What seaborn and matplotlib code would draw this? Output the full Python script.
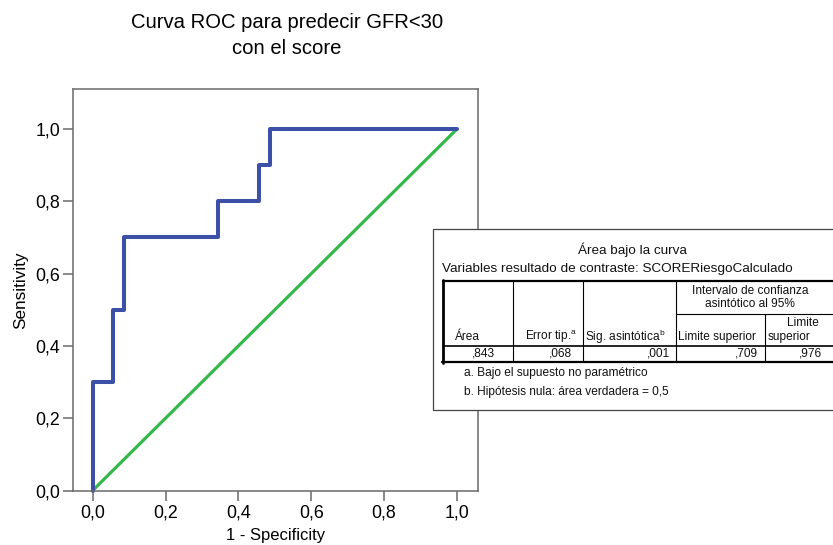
"""ROC curve for predicting GFR<30 from the risk score, with the SPSS-style AUC table."""
import matplotlib
matplotlib.use("Agg")
import matplotlib.pyplot as plt
from matplotlib.lines import Line2D
from matplotlib.patches import Rectangle
import pandas as pd
import seaborn as sns

# ROC step points (1 - specificity, sensitivity)
fpr = [0.0, 0.0, 0.057, 0.086, 0.343, 0.457, 0.486, 1.0]
tpr = [0.0, 0.3, 0.5, 0.7, 0.8, 0.9, 1.0, 1.0]
ref_x = [0.0, 1.0]
ref_y = [0.0, 1.0]

ticks = [0.0, 0.2, 0.4, 0.6, 0.8, 1.0]
tick_labels = ["0,0", "0,2", "0,4", "0,6", "0,8", "1,0"]

# AUC table
table_title = "Área bajo la curva"
table_subtitle = "Variables resultado de contraste: SCORERiesgoCalculado"
auc_values = [",843", ",068", ",001", ",709", ",976"]
footnotes = ["a. Bajo el supuesto no paramétrico",
             "b. Hipótesis nula: área verdadera = 0,5"]

BLUE = "#3B50A6"
GREEN = "#35B84A"
FRAME = "#6a6a6a"
W, H = 833, 545

sns.set_theme(style="white")
plt.rcParams["font.family"] = ["Liberation Sans", "DejaVu Sans"]
plt.rcParams["mathtext.fontset"] = "custom"
plt.rcParams["mathtext.rm"] = "Liberation Sans"
plt.rcParams["text.color"] = "black"

fig = plt.figure(figsize=(W / 100, H / 100), dpi=100)
ax = fig.add_axes([72.7 / W, 1 - 490.5 / H, (478 - 72.7) / W, (490.5 - 89) / H])

roc = pd.DataFrame({"fpr": fpr, "tpr": tpr})
ref = pd.DataFrame({"x": ref_x, "y": ref_y})
sns.lineplot(data=ref, x="x", y="y", ax=ax, color=GREEN, lw=2.3,
             sort=False, estimator=None, clip_on=False)
sns.lineplot(data=roc, x="fpr", y="tpr", ax=ax, color=BLUE, lw=2.9,
             sort=False, estimator=None, drawstyle="steps-post", clip_on=False)

ax.set_xlim(-0.0549, 1.0577)
ax.set_ylim(0, 1.1107)
ax.set_xticks(ticks, tick_labels)
ax.set_yticks(ticks, tick_labels)
ax.tick_params(axis="both", direction="out", length=7, width=1.1, color=FRAME,
               labelsize=12.8, labelcolor="black", bottom=True, left=True)
ax.tick_params(axis="x", pad=3)
ax.tick_params(axis="y", pad=2)
for s in ax.spines.values():
    s.set_color(FRAME)
    s.set_linewidth(1.1)
ax.set_xlabel("1 - Specificity", fontsize=12, labelpad=5, color="black")
ax.set_ylabel("Sensitivity", fontsize=12.3, labelpad=5, color="black")


def px(x, y):
    return x / W, 1 - y / H


def txt(x, y, s, ha="left", size=8.6):
    fig.text(*px(x, y), s, ha=ha, va="center", fontsize=size, color="#111111")


def hline(x0, x1, y, lw=0.8):
    fig.add_artist(Line2D([x0 / W, x1 / W], [1 - y / H, 1 - y / H],
                          color="black", lw=lw, transform=fig.transFigure))


def vline(x, y0, y1, lw=0.8):
    fig.add_artist(Line2D([x / W, x / W], [1 - y0 / H, 1 - y1 / H],
                          color="black", lw=lw, transform=fig.transFigure))


# title
fig.text(*px(287, 23), "Curva ROC para predecir GFR<30", ha="center", va="center", fontsize=14.6)
fig.text(*px(287, 48), "con el score", ha="center", va="center", fontsize=14.6)

# outer box of the table (runs off the right edge like the original)
fig.add_artist(Rectangle(px(433, 410), (W + 10 - 433) / W, (410 - 229) / H,
                         transform=fig.transFigure, facecolor="white",
                         edgecolor="#444444", lw=0.9, clip_on=False))

txt(632, 250, table_title, ha="center", size=9.7)
txt(442, 269, table_subtitle, size=9.7)

# grid
hline(443, W, 281, lw=1.6)
vline(443, 280, 362.5, lw=2.0)
for x in [513, 583, 676]:
    vline(x, 281, 362)
vline(765, 313.5, 362)  # the CI header spans both limit columns
hline(676, W, 313.5)
hline(443, W, 345.5, lw=1.2)
hline(442, W, 362, lw=1.6)

txt(750, 291.5, "Intervalo de confianza", ha="center")
txt(750, 304, "asintótico al 95%", ha="center")
txt(803, 323, "Limite", ha="center")
txt(768, 337, "superior")
txt(455, 337, "Área")
txt(577, 337, "Error tip.$^{\\mathrm{a}}$", ha="right")
txt(585, 337, "Sig. asintótica$^{\\mathrm{b}}$")
txt(678, 337, "Limite superior")

for xr, v in zip([495, 572, 670, 758, 822], auc_values):
    txt(xr, 354, v, ha="right")

txt(464, 373, footnotes[0])
txt(464, 392, footnotes[1])

fig.savefig("out.png", dpi=100)
